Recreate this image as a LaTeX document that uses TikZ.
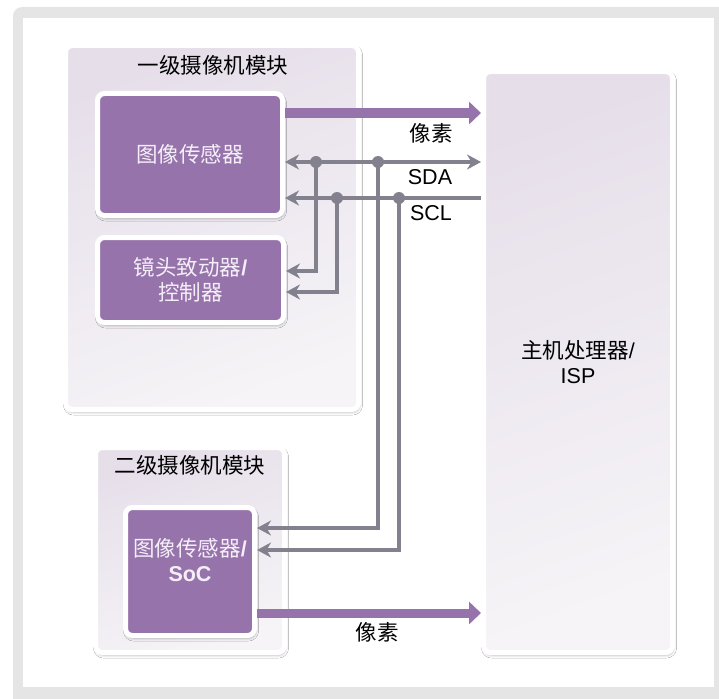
\documentclass[tikz,border=0pt]{standalone}
\usepackage{fontspec}
\setmainfont{Liberation Sans}
\newfontfamily\cjk{Noto Sans CJK SC}
\usetikzlibrary{arrows.meta,shadows.blur}
\definecolor{pur}{HTML}{9673AB}
\definecolor{gline}{HTML}{84818F}
\definecolor{fgrey}{HTML}{E5E5E5}
\definecolor{lavA}{HTML}{E6DFEA}
\definecolor{lavB}{HTML}{F6F4F7}
\definecolor{btxt}{HTML}{F4EFF7}
\begin{document}
\begin{tikzpicture}[x=1pt,y=-1pt,
  every node/.style={font=\fontsize{21.5}{25}\selectfont},
  gtip/.tip={Stealth[length=14pt,width=15pt,inset=4.5pt]},
  ptip/.tip={Triangle[length=12pt,width=22pt]},
  module/.style={draw=white, line width=5pt, rounded corners=7pt, inner sep=0pt,
    top color=lavA, bottom color=lavB, shading angle=20, align=center,
    blur shadow={shadow xshift=1pt, shadow yshift=-2.5pt, shadow blur radius=3pt, shadow opacity=30}},
  chip/.style={draw=white, line width=5pt, rounded corners=7pt, inner sep=0pt,
    fill=pur, text=btxt, align=center,
    blur shadow={shadow xshift=1pt, shadow yshift=-2.5pt, shadow blur radius=3pt, shadow opacity=35}},
  pix/.style={draw=pur, line width=9pt, -ptip},
  bus/.style={draw=gline, line width=4.3pt},
  dot/.style={circle, fill=gline, inner sep=0pt, minimum size=12pt},
  lbl/.style={text=black, inner sep=0pt, align=center}]
\useasboundingbox (0,0) rectangle (719,698);
\clip (0,0) rectangle (719,698);
% frame
\fill[fgrey, rounded corners=9pt] (13,7) rectangle (740,720);
\fill[white] (23,18) rectangle (714,687);
% modules
\node[module, minimum width=293pt, minimum height=364pt] (m1) at (212,227.5) {};
\node[lbl] (t1) at (213,65) {\cjk 一级摄像机模块};
\node[chip, minimum width=185pt, minimum height=122pt] (s1) at (190,154.5) {\cjk 图像传感器};
\node[chip, minimum width=186pt, minimum height=85pt] (lens) at (190.5,280) {{\cjk 镜头致动器}\textbf{/}\\{\cjk 控制器}};
\node[module, minimum width=189pt, minimum height=581pt] (host) at (578,362) {{\cjk 主机处理器}/\\ISP};
\node[module, minimum width=189pt, minimum height=205pt] (m2) at (190,550) {};
\node[lbl] (t2) at (190,465) {\cjk 二级摄像机模块};
\node[chip, minimum width=129pt, minimum height=128pt] (s2) at (190,571.5) {};
\node[lbl, text=btxt] (s2t) at (190,560) {{\cjk 图像传感器}\textbf{/}\\\textbf{SoC}};
% coordinates
\coordinate (yp1) at (0,113);
\coordinate (ysda) at (0,162);
\coordinate (yscl) at (0,198);
\coordinate (ya) at (0,271);
\coordinate (yb) at (0,292);
\coordinate (yc) at (0,528);
\coordinate (yd) at (0,550);
\coordinate (yp2) at (0,613);
% pixel arrows
\draw[pix] (s1.east |- yp1) -- (host.west |- yp1);
\draw[pix] (s2.east |- yp2) -- (host.west |- yp2);
% bus
\draw[bus, gtip-gtip] (s1.east |- ysda) -- (host.west |- ysda);
\draw[bus, -gtip] (host.west |- yscl) -- (s1.east |- yscl);
\coordinate (d1) at (316,162);
\coordinate (d2) at (337,198);
\coordinate (d3) at (378,162);
\coordinate (d4) at (399,198);
\draw[bus, -gtip] (d1) |- (lens.east |- ya);
\draw[bus, -gtip] (d2) |- (lens.east |- yb);
\draw[bus, -gtip] (d3) |- (s2.east |- yc);
\draw[bus, -gtip] (d4) |- (s2.east |- yd);
\node[dot] (n1) at (d1) {};
\node[dot] (n2) at (d2) {};
\node[dot] (n3) at (d3) {};
\node[dot] (n4) at (d4) {};
% labels
\node[lbl] (lp1) at (431,133) {\cjk 像素};
\node[lbl] (lsda) at (430,177) {SDA};
\node[lbl] (lscl) at (431,213) {SCL};
\node[lbl] (lp2) at (377,632) {\cjk 像素};
\end{tikzpicture}
\end{document}
